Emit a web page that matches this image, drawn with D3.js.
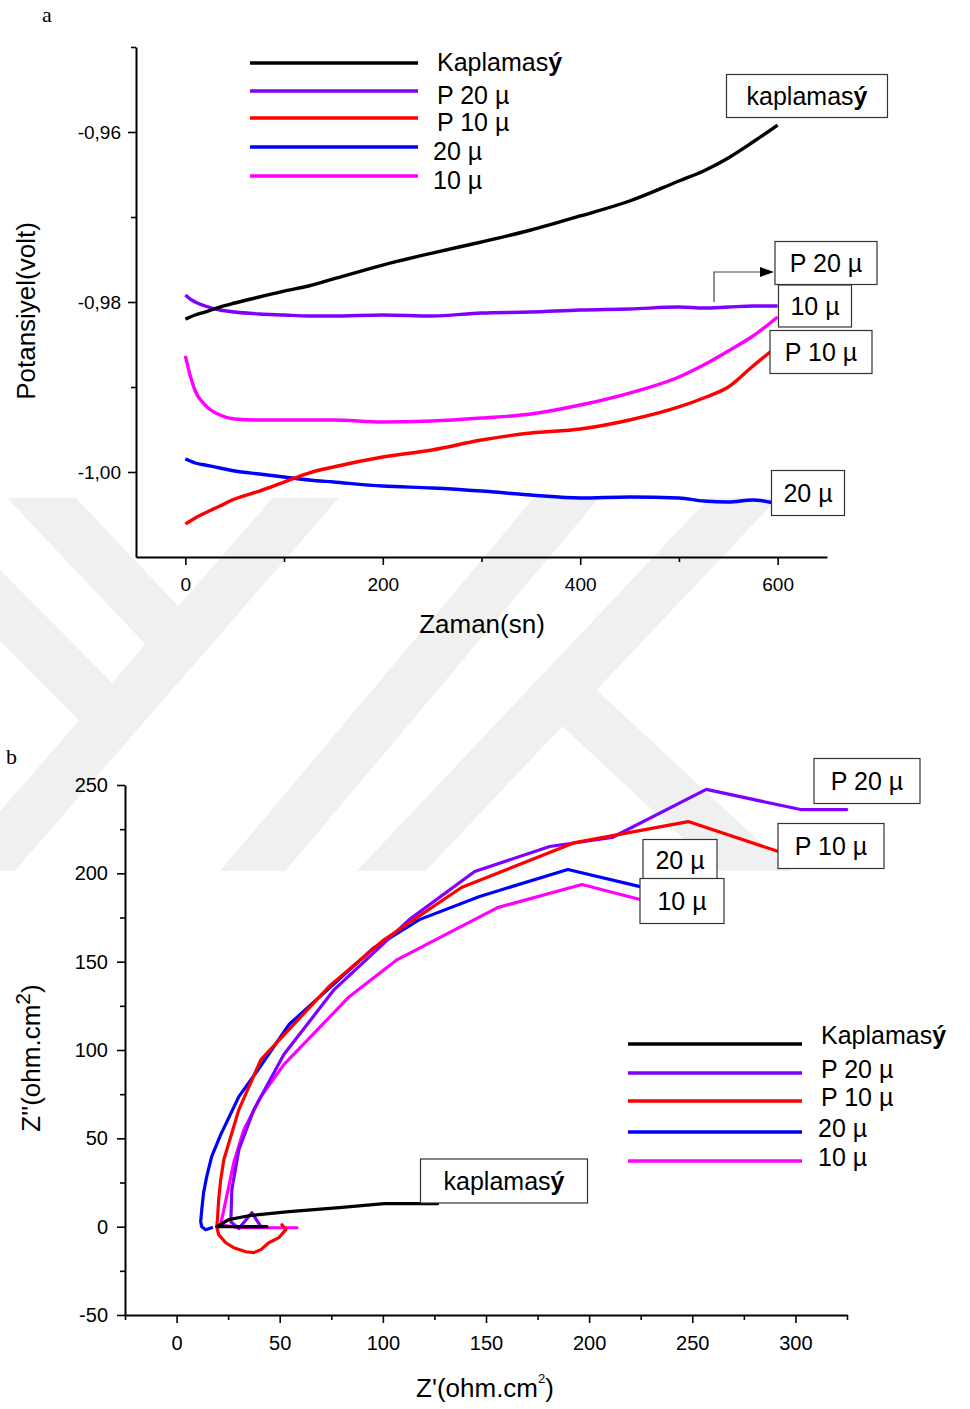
<!DOCTYPE html>
<html>
<head>
<meta charset="utf-8">
<script src="https://cdn.jsdelivr.net/npm/d3@7"></script>
<style>
body { margin: 0; background: #fff; }
text { font-family: "Liberation Sans", Arial, sans-serif; fill: #000; }
</style>
</head>
<body>
<script>
const width = 970, height = 1409;

// ---- panel a: potential vs time ----
const timeA = [0, 5, 10, 20, 35, 50, 75, 100, 125, 150, 200, 250, 300, 350, 400, 450, 500, 525, 550, 575, 600];
const kaplamasizA = [-0.98200, -0.98176, -0.98153, -0.98118, -0.98059, -0.98012, -0.97941, -0.97871, -0.97812, -0.97729, -0.97565, -0.97424, -0.97294, -0.97153, -0.96988, -0.96812, -0.96576, -0.96459, -0.96306, -0.96118, -0.95918];
const p20A = [-0.97918, -0.97965, -0.98000, -0.98047, -0.98094, -0.98118, -0.98141, -0.98153, -0.98165, -0.98165, -0.98153, -0.98165, -0.98129, -0.98118, -0.98094, -0.98082, -0.98059, -0.98071, -0.98059, -0.98047, -0.98047];
const p10A = [-1.00612, -1.00576, -1.00541, -1.00482, -1.00400, -1.00318, -1.00224, -1.00118, -1.00012, -0.99941, -0.99824, -0.99741, -0.99624, -0.99541, -0.99494, -0.99388, -0.99235, -0.99129, -0.99000, -0.98753, -0.98518];
const u20A = [-0.99847, -0.99871, -0.99894, -0.99918, -0.99953, -0.99988, -1.00024, -1.00059, -1.00094, -1.00118, -1.00165, -1.00188, -1.00224, -1.00271, -1.00306, -1.00294, -1.00306, -1.00341, -1.00353, -1.00329, -1.00376];
const u10A = [-0.98635, -0.98871, -0.99047, -0.99212, -0.99329, -0.99376, -0.99388, -0.99388, -0.99388, -0.99388, -0.99412, -0.99400, -0.99365, -0.99318, -0.99212, -0.99071, -0.98882, -0.98741, -0.98576, -0.98400, -0.98176];

// ---- panel b: Nyquist, [Z', Z''] pairs ----
const kaplamasizB = [[43.8, 0], [19.5, 0], [25.3, 4], [35, 6.2], [54.5, 8.5], [78.8, 10.8], [100.7, 13], [126.5, 13]];
const p20B = [[40.9, 0], [36.5, 7.9], [30.2, -1.1], [26.3, 2.8], [26.8, 21], [30.2, 43.6], [37.5, 66.3], [52, 97.4], [76.4, 134.2], [112.8, 173.8], [144.5, 201], [180.9, 215.2], [211.1, 220.3], [256.8, 247.5], [302.5, 236.1], [324.9, 236.1]];
const p10B = [[51.1, 1.1], [53, -1.7], [49.6, -6.2], [44.7, -9.1], [40.9, -13], [37.5, -14.7], [33.6, -14.2], [27.7, -11.9], [23.8, -9.1], [20.4, -4.5], [19.5, 0], [19.9, 5.7], [20.4, 15.3], [21.4, 26.6], [22.9, 37.9], [30.2, 66.3], [40.9, 94.6], [73.9, 135.9], [100.7, 162.5], [138.1, 192], [193.1, 217.4], [248, 229.3], [291.8, 212.3]];
const u20B = [[17, -0.6], [14.1, -1.7], [12.2, 0], [11.7, 2.8], [12.2, 9.6], [13.1, 19.3], [14.6, 28.3], [17, 39.6], [21.4, 52.1], [30.2, 73.6], [38.9, 87.8], [54.5, 114.4], [95.8, 158], [117.7, 173.8], [146.9, 186.9], [189.7, 202.2], [224.7, 192.5]];
const u10B = [[58.4, -0.6], [43.8, -0.6], [30.2, -0.6], [21.4, 1.1], [22.9, 9.6], [25.3, 22.7], [27.7, 36.2], [32.6, 54.9], [40.9, 73.6], [52, 91.7], [83.7, 130.2], [107, 151.2], [155.6, 180.6], [196.5, 193.7], [224.7, 185.2]];

const legendNames = ["Kaplamas", "P 20 µ", "P 10 µ", "20 µ", "10 µ"];
const colors = ["#000000", "#8000ff", "#ff0000", "#0000ff", "#ff00ff"];
const ticksA_y = [-0.96, -0.98, -1.00];
const ticksA_x = [0, 200, 400, 600];
const ticksB = [-50, 0, 50, 100, 150, 200, 250, 300];

const svg = d3.select("body").append("svg").attr("width", width).attr("height", height);

// faint watermark bands in the background
svg.append("clipPath").attr("id", "wmclip").append("rect").attr("x", 0).attr("y", 498).attr("width", width).attr("height", 373);
const wm = svg.append("g").attr("clip-path", "url(#wmclip)").attr("fill", "none")
  .attr("stroke", "#f0f0f0").attr("stroke-width", 50).attr("stroke-linecap", "butt");
[
  [[-30, 884], [330, 470]],
  [[15, 470], [190, 655]],
  [[-25, 580], [112, 718]],
  [[225, 904], [590, 470]],
  [[360, 904], [770, 470]],
  [[560, 690], [790, 904]]
].forEach(pts => wm.append("path").attr("d", d3.line()(pts)));

function drawAxes(g, x, y, opts) {
  g.append("g").attr("transform", `translate(0,${y.range()[0]})`)
    .call(d3.axisBottom(x).tickValues(opts.xMajor).tickSize(8).tickSizeOuter(0).tickPadding(opts.xPad).tickFormat(opts.xFmt));
  g.append("g").attr("transform", `translate(0,${y.range()[0]})`)
    .call(d3.axisBottom(x).tickValues(opts.xMinor).tickSize(5).tickSizeOuter(0).tickFormat(""))
    .select(".domain").remove();
  g.append("g").attr("transform", `translate(${x.range()[0]},0)`)
    .call(d3.axisLeft(y).tickValues(opts.yMajor).tickSize(8).tickSizeOuter(0).tickPadding(opts.yPad).tickFormat(opts.yFmt));
  g.append("g").attr("transform", `translate(${x.range()[0]},0)`)
    .call(d3.axisLeft(y).tickValues(opts.yMinor).tickSize(5).tickSizeOuter(0).tickFormat(""))
    .select(".domain").remove();
  g.selectAll(".domain").attr("stroke", "#000").attr("stroke-width", 2);
  g.selectAll(".tick line").attr("stroke", "#000").attr("stroke-width", 1.6);
  g.selectAll(".tick text").style("font-size", opts.fs + "px").style("font-family", '"Liberation Sans", Arial, sans-serif');
}

function addName(t, txt) {
  if (txt === "Kaplamas" || txt === "kaplamas") {
    t.append("tspan").text(txt);
    t.append("tspan").text("ý").style("font-weight", "bold");
  } else t.text(txt);
}

function labelBox(g, cx, cy, w, h, txt) {
  g.append("rect").attr("x", cx - w / 2).attr("y", cy - h / 2).attr("width", w).attr("height", h)
    .attr("fill", "#fff").attr("stroke", "#333").attr("stroke-width", 1.2);
  const t = g.append("text").attr("x", cx).attr("y", cy).attr("dy", "0.36em").attr("text-anchor", "middle")
    .style("font-size", "25px");
  addName(t, txt);
}

// ================= panel a =================
const xA = d3.scaleLinear().domain([-50, 650]).range([136, 827]);
const yA = d3.scaleLinear().domain([-1.01, -0.95]).range([557, 47]);
const gA = svg.append("g");

svg.append("text").attr("x", 42).attr("y", 22).text("a")
  .style("font-family", '"Liberation Serif", "Times New Roman", serif').style("font-size", "22px");

drawAxes(gA, xA, yA, {
  xMajor: ticksA_x, xMinor: [100, 300, 500], xPad: 13, xFmt: d => d,
  yMajor: ticksA_y, yMinor: [-0.95, -0.97, -0.99], yPad: 7,
  yFmt: d => d.toFixed(2).replace(".", ","), fs: 19
});

gA.append("text").attr("x", 482).attr("y", 633).attr("text-anchor", "middle").style("font-size", "26px").text("Zaman(sn)");
gA.append("text").attr("transform", "translate(35,311) rotate(-90)").attr("text-anchor", "middle").style("font-size", "26px").text("Potansiyel(volt)");

const lineA = d3.line().x((d, i) => xA(timeA[i])).y(d => yA(d)).curve(d3.curveMonotoneX);
const seriesA = [p20A, u20A, u10A, p10A, kaplamasizA];
const colorA = [colors[1], colors[3], colors[4], colors[2], colors[0]];
seriesA.forEach((s, k) => {
  gA.append("path").attr("d", lineA(s)).attr("fill", "none")
    .attr("stroke", colorA[k]).attr("stroke-width", 3.4).attr("stroke-linejoin", "round");
});

// legend a
const legA = gA.append("g");
[63, 91, 118, 147, 176].forEach((ly, i) => {
  legA.append("line").attr("x1", 250).attr("x2", 418).attr("y1", ly).attr("y2", ly)
    .attr("stroke", colors[i]).attr("stroke-width", 3.5);
  const t = legA.append("text").attr("x", i < 3 ? 437 : 433).attr("y", ly + (i === 0 ? -1 : 4)).attr("dy", "0.36em")
    .style("font-size", "25px");
  addName(t, legendNames[i]);
});

// annotations a
labelBox(gA, 807, 96, 161, 43, "kaplamas");
gA.append("path").attr("d", "M714,302V272H762").attr("fill", "none").attr("stroke", "#444").attr("stroke-width", 1.2);
gA.append("path").attr("d", "M774,272L760,267L760,277Z").attr("fill", "#000");
labelBox(gA, 826, 263, 102, 43, "P 20 µ");
labelBox(gA, 815, 306, 73, 42, "10 µ");
labelBox(gA, 821, 352, 102, 43, "P 10 µ");
labelBox(gA, 808, 493, 73, 45, "20 µ");

// ================= panel b =================
const xB = d3.scaleLinear().domain([-25, 325]).range([125, 847]);
const yB = d3.scaleLinear().domain([-50, 250]).range([1315, 785]);
const gB = svg.append("g");

svg.append("text").attr("x", 6).attr("y", 764).text("b")
  .style("font-family", '"Liberation Serif", "Times New Roman", serif').style("font-size", "22px");

drawAxes(gB, xB, yB, {
  xMajor: ticksB.filter(d => d >= 0), xMinor: [-25, 25, 75, 125, 175, 225, 275, 325], xPad: 13, xFmt: d => d,
  yMajor: ticksB.filter(d => d <= 250), yMinor: [-25, 25, 75, 125, 175, 225], yPad: 9,
  yFmt: d => d, fs: 20
});

const xt = gB.append("text").attr("x", 485).attr("y", 1397).attr("text-anchor", "middle").style("font-size", "26px");
xt.append("tspan").text("Z'(ohm.cm");
xt.append("tspan").text("2").style("font-size", "13px").attr("dy", "-14");
xt.append("tspan").text(")").attr("dy", "14");
const yt = gB.append("text").attr("transform", "translate(40,1058) rotate(-90)").attr("text-anchor", "middle").style("font-size", "26px");
yt.append("tspan").text("Z''(ohm.cm");
yt.append("tspan").text("2").style("font-size", "21px").attr("dy", "-10");
yt.append("tspan").text(")").attr("dy", "10");

const lineB = d3.line().x(d => xB(d[0])).y(d => yB(d[1]));
const seriesB = [u10B, u20B, p20B, p10B, kaplamasizB];
const colorB = [colors[4], colors[3], colors[1], colors[2], colors[0]];
seriesB.forEach((s, k) => {
  gB.append("path").attr("d", lineB(s)).attr("fill", "none")
    .attr("stroke", colorB[k]).attr("stroke-width", 3.2).attr("stroke-linejoin", "round").attr("stroke-linecap", "round");
});

// legend b
const legB = gB.append("g");
[1044, 1073, 1101, 1132, 1161].forEach((ly, i) => {
  legB.append("line").attr("x1", 628).attr("x2", 802).attr("y1", ly).attr("y2", ly)
    .attr("stroke", colors[i]).attr("stroke-width", 3.5);
  const t = legB.append("text").attr("x", i < 3 ? 821 : 818).attr("y", ly - (i === 0 ? 9 : 4)).attr("dy", "0.36em")
    .style("font-size", "25px");
  addName(t, legendNames[i]);
});

// annotations b
labelBox(gB, 867, 781, 106, 45, "P 20 µ");
labelBox(gB, 831, 846, 106, 45, "P 10 µ");
labelBox(gB, 680, 860, 74, 41, "20 µ");
labelBox(gB, 682, 901, 84, 45, "10 µ");
labelBox(gB, 504, 1181, 167, 44, "kaplamas");
</script>
</body>
</html>
